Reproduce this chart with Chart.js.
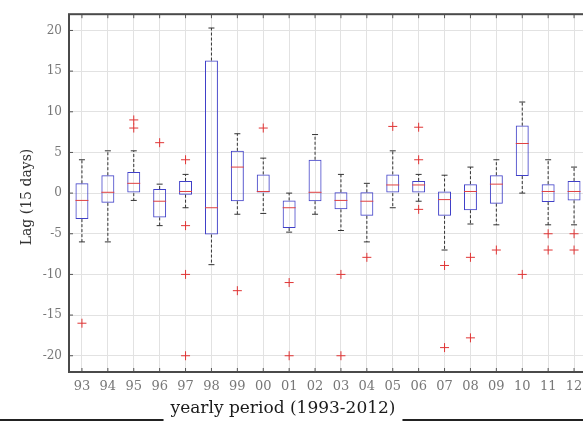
<!DOCTYPE html>
<html>
<head>
<meta charset="utf-8">
<script src="https://cdn.jsdelivr.net/npm/chart.js@4.4.1/dist/chart.umd.min.js"></script>
<style>
  html, body { margin: 0; padding: 0; background: #fff; overflow: hidden; }
  #wrap { width: 600px; height: 423px; }
</style>
</head>
<body>
<div id="wrap"><canvas id="lagChart" width="600" height="423"></canvas></div>
<script>
// Categorias (anos) e estatisticas de cada caixa
const years = ['93', '94', '95', '96', '97', '98', '99', '00', '01', '02', '03', '04', '05', '06', '07', '08', '09', '10', '11', '12'];
const q1 = [-3.2, -1.2, 0, -3, -0.2, -5.1, -1, 0, -4.3, -1, -2, -2.8, 0, 0, -2.8, -2.1, -1.3, 2.1, -1.1, -0.9];
const median = [-0.9, 0.1, 1.2, -1, 0.2, -1.8, 3.2, 0.2, -1.8, 0.1, -0.9, -1, 1, 1, -0.8, 0.2, 1.1, 6.1, 0.2, 0.2];
const q3 = [1.2, 2.2, 2.6, 0.5, 1.5, 16.3, 5.2, 2.3, -0.9, 4.1, 0.1, 0.1, 2.3, 1.5, 0.2, 1.1, 2.2, 8.3, 1.1, 1.5];
const whiskerLow = [-6, -6, -0.9, -4, -1.8, -8.8, -2.6, -2.5, -4.8, -2.6, -4.6, -6, -1.8, -1, -7, -3.8, -3.9, 0, -3.9, -3.9];
const whiskerHigh = [4.1, 5.2, 5.2, 1.1, 2.3, 20.3, 7.3, 4.3, 0, 7.2, 2.3, 1.2, 5.2, 2.3, 2.2, 3.2, 4.1, 11.2, 4.1, 3.2];
const outliers = [
    [-16], [], [8, 9], [6.2], [4.1, -4, -10, -20], [], [-12], [8], [-11, -20], [],
    [-10, -20], [-7.9], [8.2], [8.1, 4.1, -2], [-8.9, -19], [-7.9, -17.8], [-7], [-10], [-5, -7], [-5, -7]
];
const yTicks = [-20, -15, -10, -5, 0, 5, 10, 15, 20];

const serif = "'DejaVu Serif', 'Liberation Serif', serif";

// Pontos dos outliers
const outlierPoints = [];
outliers.forEach((list, i) => {
    list.forEach(v => outlierPoints.push({ x: years[i], y: v }));
});

// Bigodes, medianas, moldura e titulos
const boxExtras = {
    id: 'boxExtras',
    afterDatasetsDraw(chart) {
        const { ctx, scales: { x, y } } = chart;
        const meta = chart.getDatasetMeta(0);
        ctx.save();
        years.forEach((yr, i) => {
            const bar = meta.data[i];
            const cx = x.getPixelForValue(i);
            const half = bar.width / 2;
            // bigodes tracejados
            ctx.strokeStyle = '#333';
            ctx.lineWidth = 1;
            ctx.setLineDash([3, 2]);
            ctx.beginPath();
            ctx.moveTo(cx, y.getPixelForValue(q3[i]));
            ctx.lineTo(cx, y.getPixelForValue(whiskerHigh[i]));
            ctx.moveTo(cx, y.getPixelForValue(q1[i]));
            ctx.lineTo(cx, y.getPixelForValue(whiskerLow[i]));
            ctx.stroke();
            ctx.setLineDash([]);
            ctx.beginPath();
            [whiskerHigh[i], whiskerLow[i]].forEach(v => {
                const py = y.getPixelForValue(v);
                ctx.moveTo(cx - 3, py);
                ctx.lineTo(cx + 3, py);
            });
            ctx.stroke();
            // mediana
            ctx.strokeStyle = '#e04040';
            ctx.beginPath();
            const pm = y.getPixelForValue(median[i]);
            ctx.moveTo(cx - half, pm);
            ctx.lineTo(cx + half, pm);
            ctx.stroke();
        });
        ctx.restore();
    },
    afterDraw(chart) {
        const { ctx, chartArea: a, scales: { x, y } } = chart;
        ctx.save();
        // marcas internas
        ctx.strokeStyle = '#555';
        ctx.lineWidth = 1;
        ctx.beginPath();
        years.forEach((yr, i) => {
            const px = x.getPixelForValue(i);
            ctx.moveTo(px, a.bottom);
            ctx.lineTo(px, a.bottom - 4);
            ctx.moveTo(px, a.top);
            ctx.lineTo(px, a.top + 4);
        });
        yTicks.forEach(v => {
            const py = y.getPixelForValue(v);
            ctx.moveTo(a.left, py);
            ctx.lineTo(a.left + 4, py);
            ctx.moveTo(a.right, py);
            ctx.lineTo(a.right - 4, py);
        });
        ctx.stroke();
        // moldura
        ctx.strokeStyle = '#4a4a4a';
        ctx.lineWidth = 2;
        ctx.strokeRect(a.left, a.top, a.right - a.left, a.bottom - a.top);
        // titulo do eixo y
        ctx.fillStyle = '#333';
        ctx.font = '14px ' + serif;
        ctx.textAlign = 'center';
        ctx.textBaseline = 'middle';
        ctx.translate(27, 197);
        ctx.rotate(-Math.PI / 2);
        ctx.fillText('Lag (15 days)', 0, 0);
        ctx.setTransform(1, 0, 0, 1, 0, 0);
        // titulo do eixo x com linhas pretas
        const title = 'yearly period (1993-2012)';
        ctx.font = '17px ' + serif;
        ctx.fillStyle = '#1a1a1a';
        ctx.fillText(title, 283, 409);
        const w = ctx.measureText(title).width;
        ctx.strokeStyle = '#222';
        ctx.lineWidth = 2;
        ctx.beginPath();
        ctx.moveTo(0, 420);
        ctx.lineTo(283 - w / 2 - 7, 420);
        ctx.moveTo(283 + w / 2 + 7, 420);
        ctx.lineTo(600, 420);
        ctx.stroke();
        ctx.restore();
    }
};

const ctx = document.getElementById('lagChart').getContext('2d');
const lagChart = new Chart(ctx, {
    data: {
        labels: years,
        datasets: [{
            type: 'bar',
            data: years.map((yr, i) => [q1[i], q3[i]]),
            backgroundColor: 'rgba(0,0,0,0)',
            borderColor: '#4040c8',
            borderWidth: 1,
            borderSkipped: false,
            categoryPercentage: 1,
            barPercentage: 0.5
        }, {
            type: 'line',
            data: outlierPoints,
            showLine: false,
            pointStyle: 'cross',
            pointRadius: 4.5,
            pointBorderWidth: 1,
            pointBorderColor: '#e03535',
            pointBackgroundColor: '#e03535'
        }]
    },
    options: {
        responsive: false,
        animation: false,
        layout: { padding: { top: 11, right: 13, left: 0, bottom: 0 } },
        plugins: {
            legend: { display: false },
            tooltip: { enabled: false }
        },
        scales: {
            x: {
                grid: { color: '#e2e2e2', drawTicks: false, offset: false },
                border: { display: false },
                ticks: {
                    padding: 7,
                    color: '#777',
                    font: { family: serif, size: 13 },
                    maxRotation: 0,
                    autoSkip: false
                },
                afterFit(scale) { scale.height = 51; }
            },
            y: {
                min: -22,
                max: 22,
                grid: { color: '#e2e2e2', drawTicks: false },
                border: { display: false },
                afterBuildTicks(scale) { scale.ticks = yTicks.map(v => ({ value: v })); },
                ticks: {
                    padding: 7,
                    color: '#777',
                    font: { family: serif, size: 12 }
                },
                afterFit(scale) { scale.width = 69; }
            }
        }
    },
    plugins: [boxExtras]
});
</script>
</body>
</html>
